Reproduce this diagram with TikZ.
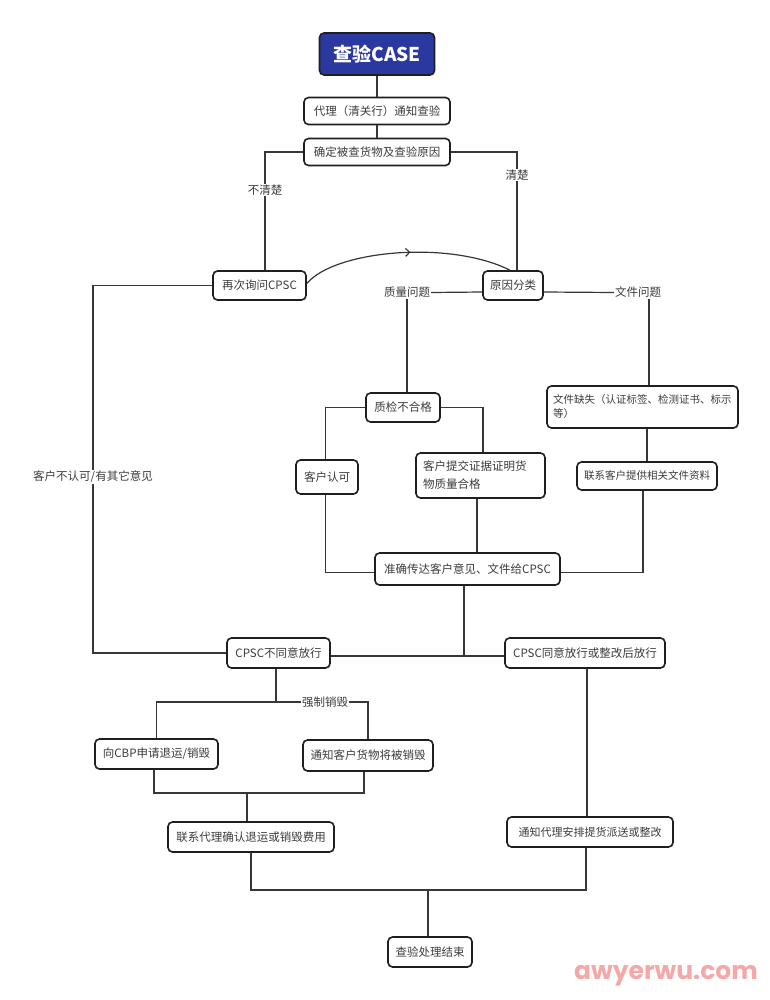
\documentclass[tikz,border=0pt]{standalone}
\usepackage{fontspec}
\setmainfont{Noto Sans CJK SC}
\newfontfamily\wmfont{Poppins}
\usetikzlibrary{decorations.markings,arrows.meta}
\definecolor{boxblue}{RGB}{42,56,160}
\definecolor{ln}{RGB}{55,55,55}
\definecolor{txt}{RGB}{60,60,60}
\definecolor{wm}{RGB}{244,168,168}
\begin{document}
\begin{tikzpicture}[x=1pt,y=-1pt,
  box/.style={draw=black!88,line width=1.6pt,rounded corners=4.5pt,fill=white,
    font=\fontsize{11.5}{14}\selectfont,text=txt,inner sep=2pt,minimum height=29pt},
  lbl/.style={fill=white,inner sep=1pt,font=\fontsize{11.5}{14}\selectfont,text=txt},
  con/.style={draw=ln,line width=1.2pt}]
\useasboundingbox[fill=white] (0,0) rectangle (770,1000);

\coordinate (j1) at (464,656);
\coordinate (j2) at (276,702);
\coordinate (j3) at (247,793);
\coordinate (j4) at (428,890);
\coordinate (lc) at (93,470);

% ---------- nodes ----------
\node[box,fill=boxblue,text=white,font=\fontsize{19}{22}\selectfont\bfseries,
  minimum width=115pt,minimum height=42pt] (case) at (377,54) {查验CASE};
\node[box,minimum width=146pt,minimum height=27pt] (n1) at (377,111) {代理（清关行）通知查验};
\node[box,minimum width=146pt,minimum height=27pt] (n2) at (377,152) {确定被查货物及查验原因};
\node[box,minimum width=93pt] (ask) at (259.5,285.5) {再次询问CPSC};
\node[box,minimum width=60pt] (cls) at (513,285.5) {原因分类};
\node[box,minimum width=74pt] (qc) at (403,407.5) {质检不合格};
\node[box,minimum width=191pt,minimum height=42pt,text width=179pt,align=left,
  font=\fontsize{10.5}{14}\selectfont] (miss) at (642.5,407) {文件缺失（认证标签、检测证书、标示\\等）};
\node[box,minimum width=62pt,minimum height=34pt] (ok) at (327,477) {客户认可};
\node[box,minimum width=129pt,minimum height=45pt,text width=115pt,align=left,
  font=\fontsize{11.5}{18}\selectfont] (proof) at (480.5,475.5) {客户提交证据证明货\\物质量合格};
\node[box,minimum width=140pt,minimum height=28pt,font=\fontsize{10.5}{14}\selectfont] (docs) at (647,476) {联系客户提供相关文件资料};
\node[box,minimum width=185pt,minimum height=32pt] (tell) at (467.5,569) {准确传达客户意见、文件给CPSC};
\node[box,minimum width=103pt,minimum height=30pt] (no) at (278.5,653) {CPSC不同意放行};
\node[box,minimum width=160pt,minimum height=30pt] (yes) at (585,653) {CPSC同意放行或整改后放行};
\node[box,minimum width=123pt,minimum height=30pt] (cbp) at (156.5,754) {向CBP申请退运/销毁};
\node[box,minimum width=130pt,minimum height=31pt] (notify) at (368,755.5) {通知客户货物将被销毁};
\node[box,minimum width=166pt,minimum height=30pt] (fee) at (251,837) {联系代理确认退运或销毁费用};
\node[box,minimum width=166pt,minimum height=30pt,font=\fontsize{11}{14}\selectfont] (arr) at (590,832) {通知代理安排提货派送或整改};
\node[box,minimum width=84pt,minimum height=30pt] (end) at (430,952) {查验处理结束};

% ---------- connectors ----------
\draw[con] (case) -- (n1);
\draw[con] (n1) -- (n2);
\draw[con] (n2.west) -| ([xshift=5.5pt]ask.north);
\draw[con] (n2.east) -| ([xshift=4pt]cls.north);
\draw[con,postaction={decorate},decoration={markings,
   mark=at position 0.52 with {\arrow{Straight Barb[length=4pt,width=8pt,line width=1.2pt]}}}]
   ([yshift=2pt]ask.east) .. controls (335,250) and (450,240) .. ([xshift=-3pt]cls.north);

\node[lbl] (lq) at (407,292.5) {质量问题};
\node[lbl] (lf) at (638,292.5) {文件问题};
\draw[con] ([yshift=-6.5pt]cls.west) -- (lq.east);
\draw[con] (lq.south) -- (lq.south |- qc.north);
\draw[con] ([yshift=-6.5pt]cls.east) -- (lf.west);
\draw[con] ([xshift=11pt]lf.south) -- ([xshift=11pt]lf.south |- miss.north);

\draw[con] (qc.west) -| ([xshift=-1.5pt]ok.north);
\draw[con] (qc.east) -| ([xshift=2.5pt]proof.north);
\draw[con] (docs.north |- miss.south) -- (docs.north);
\draw[con] ([xshift=-1.5pt]ok.south) |- ([yshift=-3.5pt]tell.west);
\draw[con] ([xshift=-3.5pt]proof.south) -- ([xshift=-3.5pt]proof.south |- tell.north);
\draw[con] ([xshift=-4pt]docs.south) |- ([yshift=-3.5pt]tell.east);
\draw[con] (tell.south -| j1) -- (j1);
\draw[con] ([yshift=-3pt]no.east) -- ([yshift=-3pt]yes.west);
\draw[con] (ask.west) -| (lc) |- (no.west);
\draw[con] (no.south -| j2) -- (j2);
\draw[con] (cbp.north) |- (j2) -| (notify.north);
\draw[con] ([xshift=-2.5pt]cbp.south) |- (j3) -| ([xshift=-4pt]notify.south);
\draw[con] (j3) -- (j3 |- fee.north);
\draw[con] ([xshift=2pt]yes.south) -- ([xshift=2pt]yes.south |- arr.north);
\draw[con] (fee.south) |- (j4) -| ([xshift=-4pt]arr.south);
\draw[con] (j4) -- (j4 |- end.north);

% ---------- labels ----------
\node[lbl] (l1) at (265,190) {不清楚};
\node[lbl] (l2) at (517,175) {清楚};
\node[lbl] (l3) at (93,477) {客户不认可/有其它意见};
\node[lbl] (l4) at (325,702) {强制销毁};
\node[font=\wmfont\bfseries\fontsize{25}{28}\selectfont,text=wm,inner sep=0pt] (wmk) at (666,976) {awyerwu.com};
\end{tikzpicture}
\end{document}
